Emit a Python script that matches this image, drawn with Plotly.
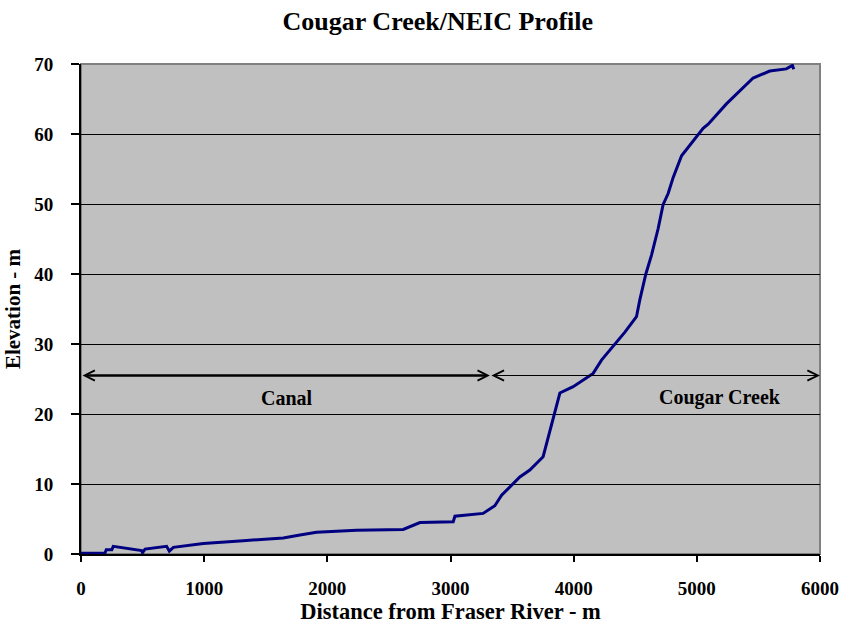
import plotly.graph_objects as go

# Longitudinal profile: distance upstream from the Fraser River (m) vs elevation (m)
distance_m = [0, 195, 205, 250, 262, 492, 500, 520, 695, 717, 750, 993, 1317, 1642,
              1778, 1912, 2238, 2616, 2752, 3022, 3036, 3265, 3360, 3415, 3563, 3644,
              3752, 3780, 3888, 3996, 4158, 4226, 4416, 4510, 4537, 4586, 4632, 4686,
              4726, 4767, 4808, 4876, 5051, 5092, 5240, 5457, 5592, 5727, 5776, 5787]
elevation_m = [0.1, 0.15, 0.6, 0.6, 1.1, 0.5, 0.2, 0.7, 1.1, 0.4, 0.95, 1.5, 1.9, 2.3,
               2.7, 3.1, 3.4, 3.5, 4.5, 4.6, 5.4, 5.8, 6.9, 8.4, 11.0, 12.0,
               13.9, 15.8, 23.0, 23.9, 25.8, 27.7, 31.7, 33.9, 36.3, 40.0, 42.7, 46.5,
               49.9, 51.5, 53.8, 56.9, 60.8, 61.4, 64.3, 68.0, 69.0, 69.3, 69.8, 69.25]

# Reach extents marked on the chart
reach_names = ["Canal", "Cougar Creek"]
reach_start = [0, 3320]
reach_end = [3320, 6000]
reach_label_x = [1670, 5190]
reach_label_y = 22.3
reach_arrow_y = 25.5

x_ticks = [0, 1000, 2000, 3000, 4000, 5000, 6000]
y_ticks = [0, 10, 20, 30, 40, 50, 60, 70]

FONT = "Liberation Serif"

fig = go.Figure()
fig.add_trace(go.Scatter(
    x=distance_m, y=elevation_m, mode="lines",
    line=dict(color="#000080", width=3),
    showlegend=False, hoverinfo="skip",
))

annotations = []
# Canal span: heavier double-headed arrow; creek span: thin one
arrow_styles = [dict(arrowwidth=2.5, arrowsize=0.8), dict(arrowwidth=1.2, arrowsize=1.7)]
for name, x0, x1, lx, sty in zip(reach_names, reach_start, reach_end, reach_label_x, arrow_styles):
    annotations.append(dict(
        x=x1, y=reach_arrow_y, ax=x0, ay=reach_arrow_y,
        xref="x", yref="y", axref="x", ayref="y",
        text="", showarrow=True, arrowhead=5, startarrowhead=5,
        arrowside="end+start", arrowcolor="black", **sty,
    ))
    annotations.append(dict(
        x=lx, y=reach_label_y, xref="x", yref="y", text=name, showarrow=False,
        font=dict(family=FONT, size=20, color="black", weight="bold"),
    ))

fig.update_layout(
    width=842, height=625,
    margin=dict(l=81, r=22, t=64, b=71, autoexpand=False),
    paper_bgcolor="white",
    plot_bgcolor="#C0C0C0",
    title=dict(text="Cougar Creek/NEIC Profile", x=0.52, xanchor="center",
               y=0.966, yanchor="middle",
               font=dict(family=FONT, size=26, color="black", weight="bold")),
    annotations=annotations,
    xaxis=dict(
        range=[0, 6000], tickvals=x_ticks, ticks="outside", ticklen=6, tickwidth=2,
        tickcolor="black", showgrid=False, zeroline=False, automargin=False,
        showline=True, linecolor="black", linewidth=2, mirror=False,
        ticklabelstandoff=10,
        tickfont=dict(family=FONT, size=19, color="black", weight="bold"),
        title=dict(text="Distance from Fraser River - m", standoff=0,
                   font=dict(family=FONT, size=22.5, color="black", weight="bold")),
    ),
    yaxis=dict(
        range=[0, 70], tickvals=y_ticks, ticks="outside", ticklen=8, tickwidth=2,
        tickcolor="black", showgrid=True, gridcolor="black", gridwidth=1,
        zeroline=False, showline=True, linecolor="black", linewidth=2,
        automargin=False, ticklabelstandoff=14,
        tickfont=dict(family=FONT, size=19, color="black", weight="bold"),
        title=dict(text="Elevation - m", standoff=8,
                   font=dict(family=FONT, size=21, color="black", weight="bold")),
    ),
    shapes=[dict(type="rect", xref="paper", yref="paper", x0=0, x1=1, y0=0, y1=1,
                 line=dict(color="#808080", width=2), layer="below")],
)

fig.write_html("out.html")
